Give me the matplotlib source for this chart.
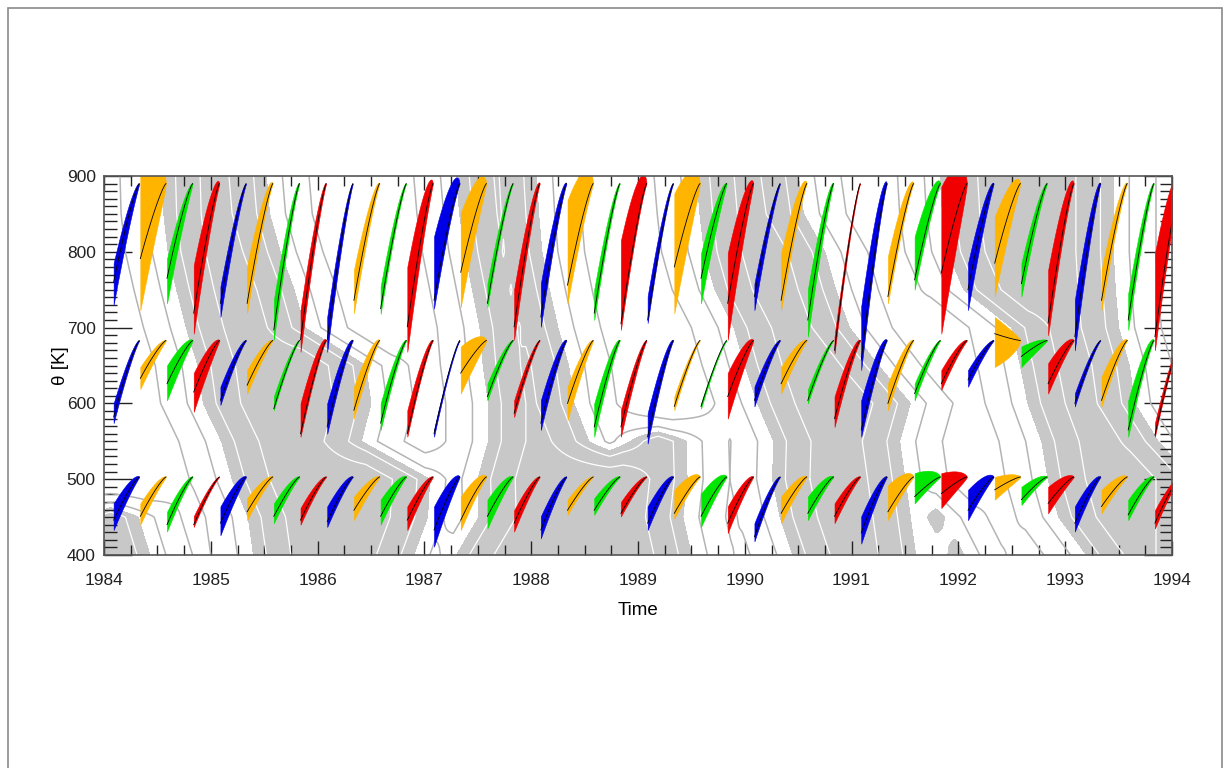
import numpy as np
import matplotlib
matplotlib.use('Agg')
import matplotlib.pyplot as plt
from matplotlib.ticker import MultipleLocator
from matplotlib.patches import Rectangle

plt.rcParams['font.family'] = ['Liberation Sans', 'DejaVu Sans']

# shaded (easterly) phases: start/end year at each theta level
theta_levels = [400, 450, 500, 550, 600, 650, 700, 750, 800, 850, 900]
east_400 = [(1983.8, 1984.43), (1985.4, 1986.9), (1987.3, 1989.5), (1990.45, 1991.6), (1991.9, 1992.05), (1993.2, 1994.2)]
east_450 = [(1983.8, 1984.32), (1985.35, 1987.03), (1987.51, 1989.42), (1990.33, 1991.55), (1991.71, 1991.87), (1992.94, 1994.2)]
east_500 = [(1985.2, 1987.05), (1987.5, 1989.46), (1990.26, 1991.5), (1992.84, 1994.2)]
east_550 = [(1985.1, 1986.41), (1987.6, 1988.54), (1988.93, 1989.45), (1990.27, 1991.45), (1992.78, 1993.87)]
east_600 = [(1984.93, 1986.5), (1987.6, 1988.4), (1990.12, 1991.55), (1992.65, 1993.65)]
east_650 = [(1984.88, 1986.45), (1987.55, 1988.35), (1990.0, 1991.25), (1992.58, 1993.6)]
east_700 = [(1984.77, 1985.88), (1987.52, 1988.25), (1989.9, 1990.98), (1992.5, 1993.5)]
east_750 = [(1984.68, 1985.78), (1987.45, 1988.17), (1989.72, 1990.85), (1992.05, 1993.47)]
east_800 = [(1984.6, 1985.65), (1987.38, 1988.1), (1989.62, 1990.75), (1991.9, 1993.45)]
east_850 = [(1984.56, 1985.55), (1987.33, 1988.07), (1989.58, 1990.55), (1991.85, 1993.45)]
east_900 = [(1984.55, 1985.52), (1987.3, 1988.05), (1989.55, 1990.5), (1991.83, 1993.45)]
east_phases = [east_400, east_450, east_500, east_550, east_600, east_650,
               east_700, east_750, east_800, east_850, east_900]

# trajectories: one every 3 months, colours cycle
first_launch = 1984.09
n_traj = 40
traj_colors = ['#0000e6', '#ffb400', '#00e600', '#f00000']

top_tip = 890
top_mean = [760, 791, 765, 719, 732, 732, 697, 684, 684, 736,
            725, 701, 736, 773, 732, 701, 714, 756, 719, 705,
            710, 780, 765, 732, 741, 736, 710, 670, 657, 741,
            763, 772, 750, 785, 758, 706, 688, 736, 710, 688]
top_lo = [730, 723, 732, 692, 714, 719, 684, 668, 668, 719,
          718, 668, 725, 727, 727, 684, 701, 732, 710, 697,
          706, 719, 732, 684, 723, 723, 688, 666, 644, 732,
          750, 692, 723, 741, 741, 690, 670, 723, 697, 670]
top_hi = [785, 930, 791, 782, 754, 782, 736, 723, 714, 776,
          754, 780, 820, 851, 758, 750, 758, 868, 750, 815,
          741, 877, 798, 798, 758, 798, 750, 688, 728, 794,
          820, 886, 785, 846, 785, 776, 736, 776, 745, 798]

mid_tip = 683
mid_mean = [582, 633, 626, 615, 604, 624, 593, 560, 569, 591,
            574, 560, 560, 640, 609, 587, 574, 600, 569, 569,
            556, 596, 596, 609, 604, 626, 604, 580, 565, 600,
            613, 626, 631, 692, 662, 626, 600, 604, 565, 558]
mid_lo = [574, 619, 604, 589, 598, 613, 591, 556, 560, 580,
          565, 556, 556, 613, 604, 582, 565, 578, 556, 556,
          547, 591, 593, 580, 596, 613, 600, 569, 556, 591,
          604, 618, 622, 648, 648, 613, 596, 596, 556, 556]
mid_hi = [600, 648, 650, 640, 622, 644, 609, 600, 600, 622,
          600, 591, 565, 675, 626, 604, 604, 622, 600, 591,
          587, 609, 600, 640, 622, 648, 618, 609, 604, 626,
          626, 644, 644, 714, 675, 653, 613, 635, 604, 574]

low_tip = 503
low_mean = [446, 451, 440, 440, 442, 457, 451, 446, 444, 459,
            451, 446, 433, 446, 451, 442, 433, 459, 459, 455,
            442, 455, 451, 442, 424, 455, 455, 451, 429, 457,
            477, 481, 459, 486, 473, 468, 442, 464, 453, 442]
low_lo = [433, 440, 431, 437, 426, 446, 442, 440, 437, 446,
          440, 433, 411, 433, 435, 431, 422, 453, 453, 451,
          433, 448, 437, 429, 418, 442, 446, 442, 415, 446,
          468, 462, 446, 473, 466, 455, 431, 455, 446, 435]
low_hi = [468, 468, 457, 451, 464, 475, 468, 462, 464, 477,
          473, 464, 464, 477, 473, 459, 451, 473, 475, 470,
          464, 486, 481, 464, 442, 477, 477, 468, 451, 492,
          508, 508, 486, 503, 490, 490, 464, 486, 473, 459]

bands = [(top_tip, top_mean, top_lo, top_hi),
         (mid_tip, mid_mean, mid_lo, mid_hi),
         (low_tip, low_mean, low_lo, low_hi)]


# signed distance (years) to the nearest phase edge, negative inside the shading
tgrid = np.linspace(1983.8, 1994.2, 1041)
dist = np.zeros((len(theta_levels), len(tgrid)))
for i, phases in enumerate(east_phases):
    edges = np.array([e for p in phases for e in p])
    d = np.min(np.abs(tgrid[:, None] - edges[None, :]), axis=1)
    inside = np.zeros(len(tgrid), dtype=bool)
    for a, b in phases:
        inside |= (tgrid >= a) & (tgrid <= b)
    dist[i] = np.where(inside, -d, d)
dist = np.clip(dist, -0.6, 0.8)

fig = plt.figure(figsize=(12.3, 7.68), dpi=100)
fig.patches.append(Rectangle((8 / 1230, -0.01), 1214 / 1230, 1 - 8 / 768 + 0.01,
                             transform=fig.transFigure, fill=False,
                             edgecolor='#8a8a8a', lw=1.2))
ax = fig.add_axes([104 / 1230, 1 - 555 / 768, 1068 / 1230, 379 / 768])

ax.contourf(tgrid, theta_levels, dist, levels=[-1, 0], colors=['#c8c8c8'], zorder=1)
ax.contour(tgrid, theta_levels, dist, levels=[-0.35, -0.12], colors='white',
           linewidths=0.9, linestyles='solid', zorder=2)
ax.contour(tgrid, theta_levels, dist, levels=[0.15, 0.4], colors='#b4b4b4',
           linewidths=1.1, linestyles='solid', zorder=2)

s = np.linspace(0, 1, 30)
for tip, means, los, his in bands:
    for k in range(n_traj):
        t0 = first_launch + 0.25 * k
        t = t0 + 0.24 * s
        m = means[k] + (tip - means[k]) * (1 - (1 - s) ** 1.25)
        up = m + (his[k] - means[k]) * (1 - s) ** 0.7
        dn = m - (means[k] - los[k]) * (1 - s) ** 0.7
        c = traj_colors[k % 4]
        ax.fill_between(t, dn, up, facecolor=c, edgecolor=c, lw=0.4, zorder=3)
        ax.plot(t, m, color='black', lw=0.6, zorder=4)

ax.set_xlim(1984, 1994)
ax.set_ylim(400, 900)
ax.xaxis.set_major_locator(MultipleLocator(1))
ax.xaxis.set_minor_locator(MultipleLocator(0.25))
ax.yaxis.set_major_locator(MultipleLocator(100))
ax.yaxis.set_minor_locator(MultipleLocator(10))
ax.tick_params(which='both', direction='in', top=True, right=True, colors='#222222',
               labelsize=12.5)
ax.tick_params(axis='x', which='major', length=10, width=1, pad=13)
ax.tick_params(axis='x', which='minor', length=7, width=1)
ax.tick_params(axis='y', which='major', length=20, width=1, pad=6)
ax.tick_params(axis='y', which='minor', length=9, width=1)
for sp in ax.spines.values():
    sp.set_color('#555555')
    sp.set_linewidth(1.2)
    sp.set_zorder(6)

ax.set_xlabel('Time', fontsize=13.5, labelpad=10)
ax.set_ylabel('θ [K]', fontsize=13.5, labelpad=-2)

fig.savefig('out.png', dpi=100)
